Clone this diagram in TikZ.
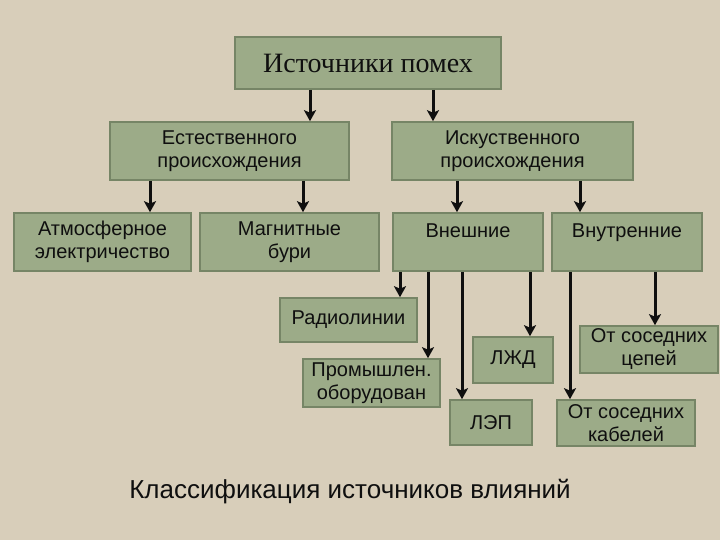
\documentclass[tikz,border=0pt]{standalone}
\usepackage{fontspec}
\setmainfont{Liberation Sans}
\newfontfamily\serifcyr{Liberation Serif}
\usetikzlibrary{positioning,calc,arrows.meta}
\definecolor{slidebeige}{RGB}{216,206,186}
\definecolor{boxsage}{RGB}{156,171,136}
\definecolor{boxedge}{RGB}{118,133,102}
\definecolor{inkblack}{RGB}{15,15,15}

\begin{document}
\begin{tikzpicture}[x=1pt,y=-1pt,
  src/.style={draw=boxedge, line width=1.6pt, fill=boxsage, inner sep=0pt, align=center,
    font=\fontsize{20}{23}\selectfont, text=inkblack},
  feed/.style={-{Stealth[length=11pt,width=12pt,inset=2.5pt]}, line width=3pt, inkblack}
]
  \fill[slidebeige] (0,0) rectangle (720,540);
  \useasboundingbox (0,0) rectangle (720,540);

  \node[src, minimum width=266pt, minimum height=52pt, font=\serifcyr\fontsize{28}{32}\selectfont] (root) at (368,63) {Источники помех};
  \node[src, minimum width=239pt, minimum height=58pt] (nat) at (229.5,151) {Естественного\\происхождения};
  \node[src, minimum width=241pt, minimum height=58pt] (art) at (512.5,151) {Искуственного\\происхождения};

  \node[src, minimum width=177pt, minimum height=58pt] (atmo) at (102.5,242) {Атмосферное\\электричество};
  \node[src, minimum width=179pt, minimum height=58pt] (storm) at (289.5,242) {Магнитные\\бури};
  \node[src, minimum width=150pt, minimum height=58pt] (outer) at (468,242) {Внешние\\\mbox{}};
  \node[src, minimum width=150pt, minimum height=58pt] (inner) at (627,242) {Внутренние\\\mbox{}};

  \node[src, minimum width=137pt, minimum height=44pt] (radio) at (348.5,320) {Радиолинии};
  \node[src, minimum width=137pt, minimum height=48pt] (plant) at (371.5,383) {Промышлен.\\оборудован};
  \node[src, minimum width=82pt, minimum height=45pt] (power) at (491,422.5) {ЛЭП};
  \node[src, minimum width=80pt, minimum height=46pt] (rail) at (513,360) {ЛЖД};
  \node[src, minimum width=138pt, minimum height=47pt] (chain) at (649,349.5) {От соседних\\цепей};
  \node[src, minimum width=138pt, minimum height=46pt] (cable) at (626,423) {От соседних\\кабелей};

  \foreach \a/\b/\x in {root/nat/310, root/art/433, nat/atmo/150, nat/storm/303,
      art/outer/457, art/inner/580, outer/radio/400, outer/plant/428, outer/power/462,
      outer/rail/530, inner/cable/570, inner/chain/655}
    \draw[feed] (\a.south -| \x,0) -- (\b.north -| \x,0);

  \node[font=\fontsize{26}{30}\selectfont, text=inkblack] (caption) at (350,492) {Классификация источников влияний};
\end{tikzpicture}
\end{document}
